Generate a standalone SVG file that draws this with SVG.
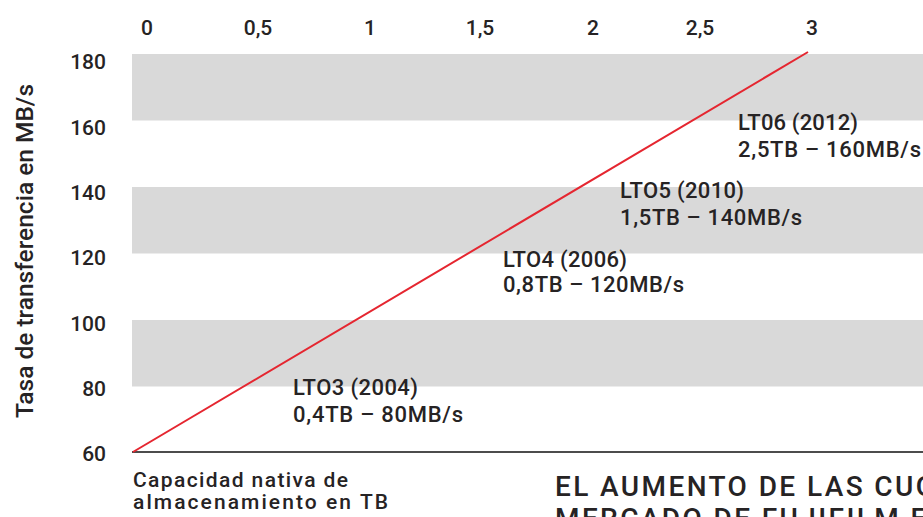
<svg xmlns="http://www.w3.org/2000/svg" width="923" height="517" viewBox="0 0 923 517">
<style>
text{font-family:Roboto,"DejaVu Sans Condensed","Liberation Sans",sans-serif;font-weight:500;fill:#262324}
.tick{font-size:21px}
.ytick{font-size:21px;text-anchor:end}
.lbl{font-size:22px}
.band{fill:#d9d9d9}
</style>
<rect width="923" height="517" fill="#fff"/>
<g id="bands">
<rect class="band" x="132" y="54" width="791" height="66.5"/>
<rect class="band" x="132" y="187" width="791" height="66.5"/>
<rect class="band" x="132" y="320" width="791" height="66.5"/>
</g>
<g id="x-ticks" class="tick" text-anchor="middle">
<text x="147" y="35">0</text>
<text x="258" y="35">0,5</text>
<text x="370" y="35">1</text>
<text x="480" y="35">1,5</text>
<text x="593" y="35">2</text>
<text x="700" y="35">2,5</text>
<text x="812" y="35">3</text>
</g>
<g id="y-ticks" class="ytick">
<text x="106" y="69">180</text>
<text x="106" y="135">160</text>
<text x="106" y="200">140</text>
<text x="106" y="265">120</text>
<text x="106" y="331">100</text>
<text x="106" y="396">80</text>
<text x="106" y="461">60</text>
</g>
<g id="y-title"><text transform="translate(33,251) rotate(-90)" text-anchor="middle" font-size="23" textLength="334" lengthAdjust="spacingAndGlyphs">Tasa de transferencia en MB/s</text></g>
<g id="axis"><line x1="132" y1="452" x2="923" y2="452" stroke="#111" stroke-width="1.6"/></g>
<g id="connectors"><line x1="133" y1="452" x2="808" y2="52" stroke="#e52630" stroke-width="2"/></g>
<g id="lto3" class="lbl"><text x="293" y="395" textLength="125">LTO3 (2004)</text><text x="293" y="422" textLength="170">0,4TB – 80MB/s</text></g>
<g id="lto4" class="lbl"><text x="503" y="267" textLength="124">LTO4 (2006)</text><text x="503" y="292" textLength="181">0,8TB – 120MB/s</text></g>
<g id="lto5" class="lbl"><text x="620" y="198" textLength="124">LTO5 (2010)</text><text x="620" y="225" textLength="182">1,5TB – 140MB/s</text></g>
<g id="lto6" class="lbl"><text x="738" y="130" textLength="120">LT06 (2012)</text><text x="738" y="157" textLength="183">2,5TB – 160MB/s</text></g>
<g id="x-title" style="font-size:21px"><text x="133" y="487" textLength="215">Capacidad nativa de</text><text x="133" y="509" textLength="255">almacenamiento en TB</text></g>
<g id="headline" style="font-size:28px;letter-spacing:2.4px"><text x="555" y="496">EL AUMENTO DE LAS CUOTAS</text><text x="555" y="528">MERCADO DE FUJIFILM EN</text></g>
</svg>
